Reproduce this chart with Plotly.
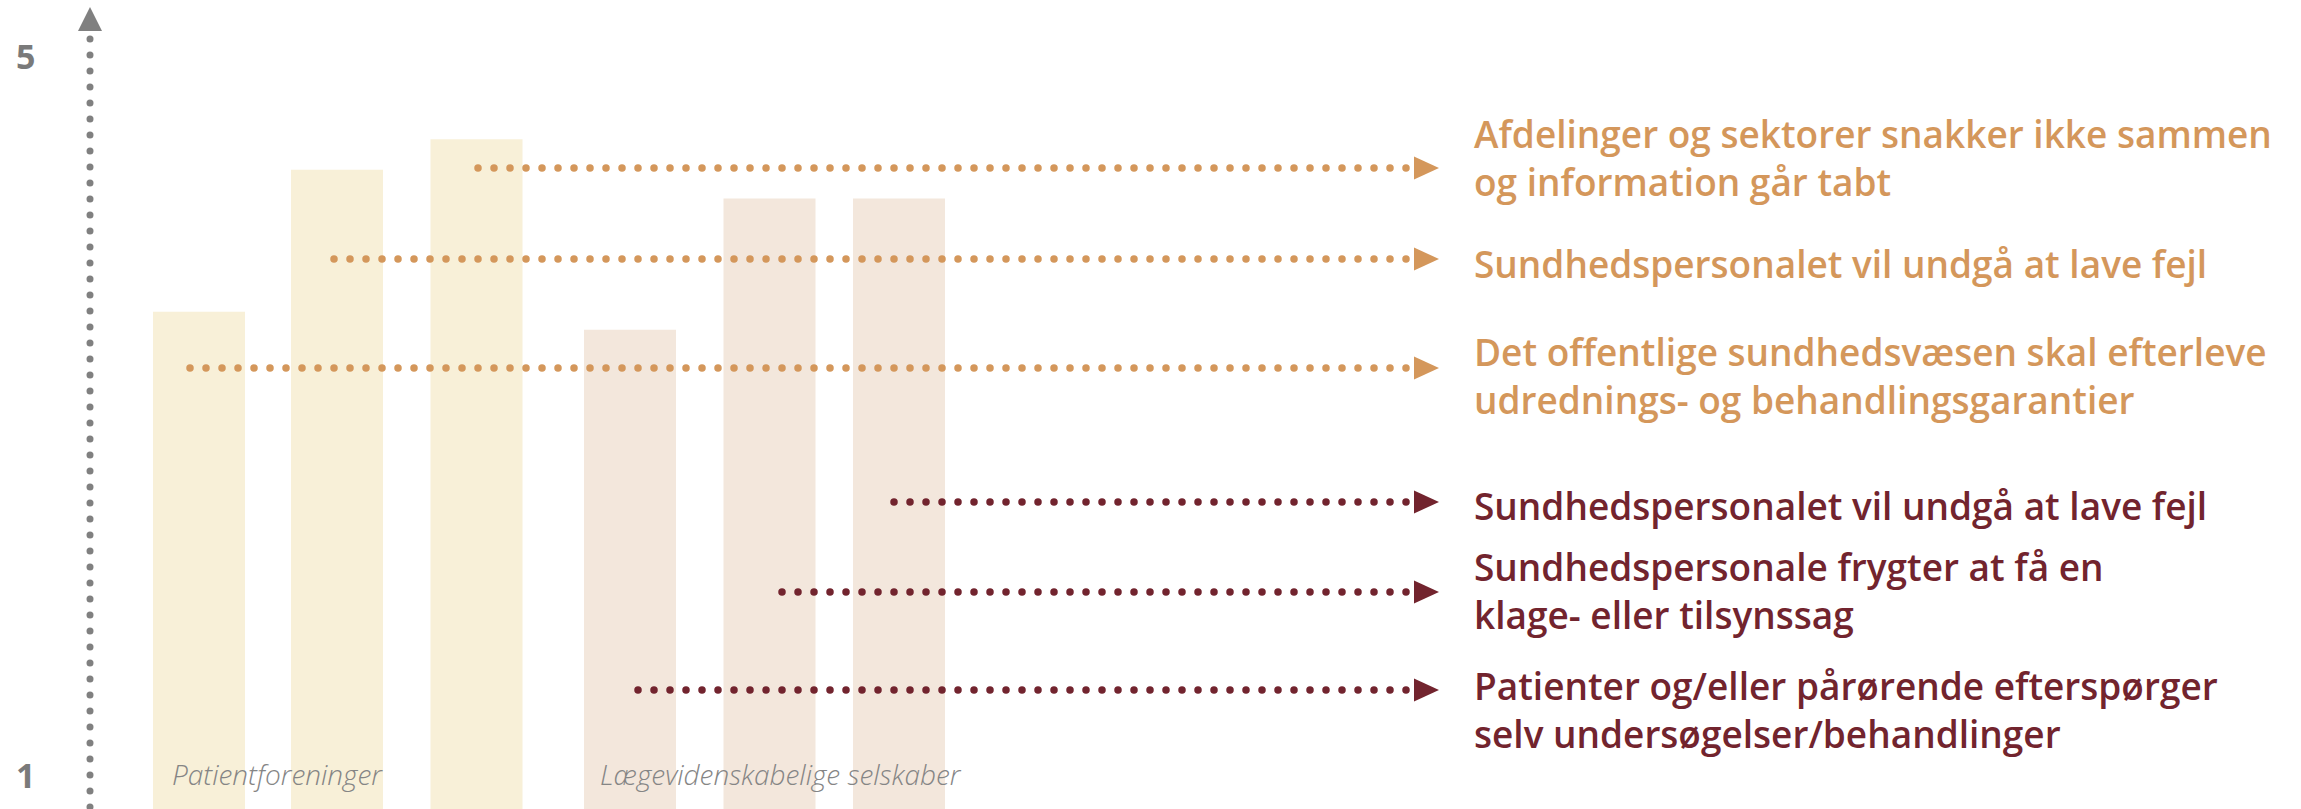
import numpy as np
import plotly.graph_objects as go

# ---------------- data ----------------
bar_groups = ["Patientforeninger"] * 3 + ["Lægevidenskabelige selskaber"] * 3
bar_values = [3.58, 4.37, 4.54, 3.48, 4.21, 4.21]
group_labels = ["Patientforeninger", "Lægevidenskabelige selskaber"]
y_tick_values = [5, 1]
y_tick_labels = ["5", "1"]

patient_labels = [
    "Afdelinger og sektorer snakker ikke sammen<br>og information går tabt",
    "Sundhedspersonalet vil undgå at lave fejl",
    "Det offentlige sundhedsvæsen skal efterleve<br>udrednings- og behandlingsgarantier",
]
doctor_labels = [
    "Sundhedspersonalet vil undgå at lave fejl",
    "Sundhedspersonale frygter at få en<br>klage- eller tilsynssag",
    "Patienter og/eller pårørende efterspørger<br>selv undersøgelser/behandlinger",
]

# ---------------- layout / style ----------------
W, H = 2301, 809
Y_RANGE = [0.8136, 5.314]
bar_x_px = [199, 337, 476.5, 630, 769.5, 899]
bar_w_px = 92
bar_colors = ["#F8F0D8"] * 3 + ["#F3E7DC"] * 3
ORANGE = "#D4975B"
DARK = "#72242E"
GREY = "#808080"

patient_arrow_start = [481, 338, 197]
patient_arrow_y = [168, 259, 368]
patient_text_y = [157, 263.5, 375.5]
doctor_arrow_start = [900, 778, 638]
doctor_arrow_y = [502, 592, 690]
doctor_text_y = [505, 590, 709]
DOT_END = 1406
DOT_STEP = 16
HEAD_X0, HEAD_LEN, HEAD_HALF = 1414, 25, 11.5
TEXT_X = 1472
TEXT_FONT = "Open Sans"
TEXT_SIZE = 37

group_label_x = [170, 598]
group_label_y = 774
axis_x = 90

fig = go.Figure()

# bars
fig.add_trace(go.Bar(
    x=bar_x_px, y=bar_values, width=bar_w_px,
    marker=dict(color=bar_colors, line=dict(width=0)),
    hoverinfo="skip", showlegend=False,
    customdata=bar_groups,
))

shapes = []
annotations = []

def add_arrow(start_x, y, color):
    n = int(round((DOT_END - start_x) / DOT_STEP))
    xs = DOT_END - DOT_STEP * np.arange(n, -1, -1)
    fig.add_trace(go.Scatter(
        x=xs, y=[y] * len(xs), yaxis="y2", mode="markers",
        marker=dict(size=7.5, color=color, line=dict(width=0)),
        hoverinfo="skip", showlegend=False,
    ))
    shapes.append(dict(
        type="path", xref="x", yref="y2", line=dict(width=0), fillcolor=color,
        path=f"M{HEAD_X0},{y - HEAD_HALF} L{HEAD_X0 + HEAD_LEN},{y} L{HEAD_X0},{y + HEAD_HALF} Z",
    ))

def add_label(text, y0, color):
    annotations.append(dict(
        x=TEXT_X, y=y0, xref="x", yref="y2",
        xanchor="left", yanchor="middle", align="left", showarrow=False, text=text,
        font=dict(family=TEXT_FONT, size=TEXT_SIZE, color=color, weight=600),
    ))

for lbl, sx, ay, ty in zip(patient_labels, patient_arrow_start, patient_arrow_y, patient_text_y):
    add_arrow(sx, ay, ORANGE)
    add_label(lbl, ty, ORANGE)
for lbl, sx, ay, ty in zip(doctor_labels, doctor_arrow_start, doctor_arrow_y, doctor_text_y):
    add_arrow(sx, ay, DARK)
    add_label(lbl, ty, DARK)

# vertical dotted axis
ys = np.arange(39, H + 8, DOT_STEP)
fig.add_trace(go.Scatter(
    x=[axis_x] * len(ys), y=ys, yaxis="y2", mode="markers",
    marker=dict(size=7, color=GREY, line=dict(width=0)),
    hoverinfo="skip", showlegend=False, cliponaxis=False,
))
shapes.append(dict(
    type="path", xref="x", yref="y2", line=dict(width=0), fillcolor=GREY,
    path=f"M{axis_x},7 L{axis_x + 12},31 L{axis_x - 12},31 Z",
))

# axis labels
for v, t in zip(y_tick_values, y_tick_labels):
    annotations.append(dict(
        x=25, y=v, xref="x", yref="y", xanchor="center", yanchor="middle",
        showarrow=False, text=t,
        font=dict(family="Open Sans", size=34, color="#7A7A7A", weight=700),
    ))

# group labels
for gx, g in zip(group_label_x, group_labels):
    annotations.append(dict(
        x=gx, y=group_label_y, xref="x", yref="y2", xanchor="left", yanchor="middle",
        showarrow=False, text=g,
        font=dict(family="Open Sans", size=28, color="#858585", weight=300, style="italic"),
    ))

fig.update_layout(
    width=W, height=H, margin=dict(l=0, r=0, t=0, b=0),
    paper_bgcolor="white", plot_bgcolor="white",
    xaxis=dict(range=[0, W], visible=False, fixedrange=True),
    yaxis=dict(range=Y_RANGE, visible=False, fixedrange=True),
    yaxis2=dict(range=[H, 0], overlaying="y", visible=False, fixedrange=True),
    shapes=shapes, annotations=annotations, showlegend=False,
)

fig.write_html("out.html", config={"displayModeBar": False},
               post_script="document.body.style.margin='0';document.body.style.overflow='hidden';")
